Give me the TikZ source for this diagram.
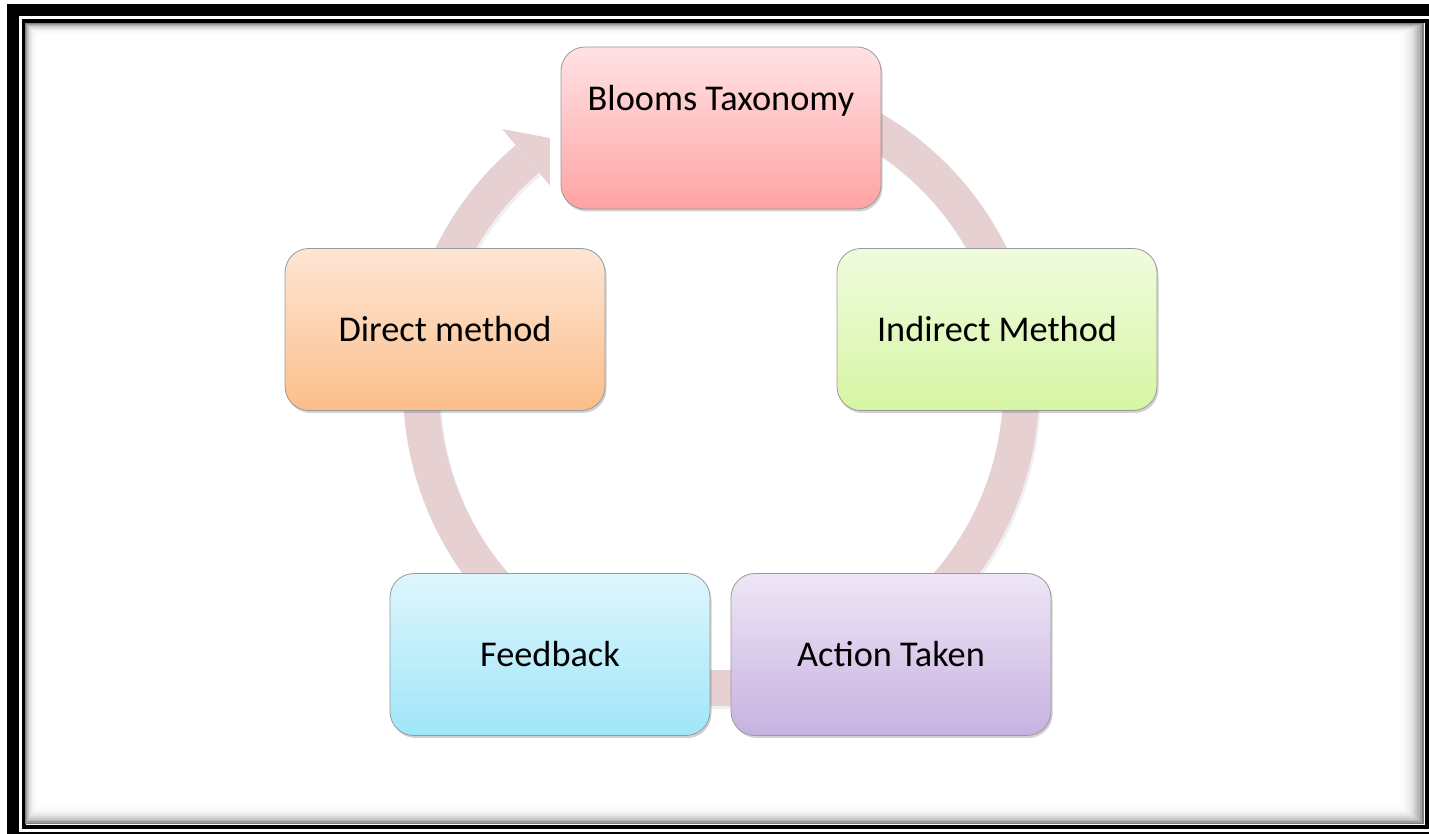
\documentclass[tikz,border=0pt]{standalone}
\usepackage{fontspec}
\setmainfont{Carlito}
\usetikzlibrary{calc,shadows}

\definecolor{ringpink}{RGB}{231,208,209}
\definecolor{bloomtop}{RGB}{255,226,228}
\definecolor{bloombot}{RGB}{255,163,163}
\definecolor{indirtop}{RGB}{240,251,222}
\definecolor{indirbot}{RGB}{214,246,163}
\definecolor{directtop}{RGB}{253,230,213}
\definecolor{directbot}{RGB}{252,190,138}
\definecolor{feedtop}{RGB}{222,246,252}
\definecolor{feedbot}{RGB}{160,230,249}
\definecolor{actiontop}{RGB}{238,230,246}
\definecolor{actionbot}{RGB}{198,178,224}

\tikzset{
  stage/.style={draw=black!40, line width=0.8pt, rounded corners=24pt,
    minimum width=320pt, minimum height=162pt, inner sep=0pt,
    text height=24pt, text depth=0pt, font=\fontsize{36.3}{43}\selectfont,
    drop shadow={shadow xshift=1.5pt, shadow yshift=-2.5pt, opacity=0.3, fill=black!60}},
}

\begin{document}
\begin{tikzpicture}[x=1pt,y=1pt]
    \clip (0,0) rectangle (1429,834);

    % Double frame
    \draw[line width=12pt] (13,823.5) rectangle (1436,-4);
    \draw[line width=4pt] (23.5,813) rectangle (1427,7);
    % inner shade of the frame
    \foreach \i/\g in {1/50,2/38,3/28,4/21,5/15,6/11,7/8,8/5,9/3,10/2,11/1}
        \draw[black!\g, line width=2.2pt] (25+\i,9+1.6*\i) rectangle (1425-2.2*\i,811-\i);

    % The cycle ring
    \coordinate (c) at (721,446);
    \draw[black, opacity=0.06, line width=36pt] ($(c)+(2,-3)+(100:300)$) arc[start angle=100, end angle=-229.8, radius=300];
    \draw[ringpink, line width=36pt] ($(c)+(100:300)$) arc[start angle=100, end angle=-229.8, radius=300];
    \fill[ringpink] ($(c)+(130.2:339)$) -- ($(c)+(124.4:303)$) -- ($(c)+(130.2:265)$) -- cycle;

    % Stages
    \node[stage, top color=bloomtop, bottom color=bloombot, text depth=58pt] (blooms) at (721,706) {Blooms Taxonomy};
    \node[stage, top color=indirtop, bottom color=indirbot] (indirect) at (997,504.5) {Indirect Method};
    \node[stage, top color=actiontop, bottom color=actionbot] (action) at (891,179.5) {Action Taken};
    \node[stage, top color=feedtop, bottom color=feedbot] (feedback) at (550,179.5) {Feedback};
    \node[stage, top color=directtop, bottom color=directbot] (direct) at (445,504.5) {Direct method};

\end{tikzpicture}
\end{document}
